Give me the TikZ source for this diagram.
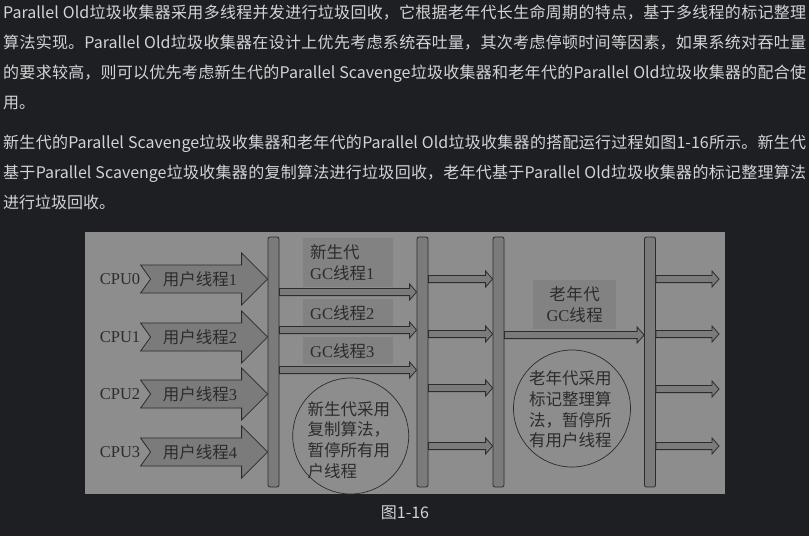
\documentclass[tikz,border=0pt]{standalone}
\usepackage{fontspec}
\setmainfont{Liberation Serif}
\newfontfamily\cjk{Noto Sans CJK SC}
\usetikzlibrary{calc}
\XeTeXlinebreaklocale "zh"
\XeTeXlinebreakskip=0pt plus 1pt
\tolerance=9999
\definecolor{pagebg}{HTML}{1E1F22}
\definecolor{pagetext}{HTML}{D3D4D6}
\definecolor{panelgray}{HTML}{8D8D8D}
\definecolor{bargray}{HTML}{7B7B7B}
\definecolor{boxgray}{HTML}{828282}
\definecolor{inkgray}{HTML}{2C2C2C}
\newcommand{\zh}[1]{{\cjk #1}}
% block arrow of a user thread, #1 is its tip
\newcommand{\userthread}[1]{%
    \draw[user arrow]
        ($(#1)+(-127,-14)$) -- ($(#1)+(-26,-14)$) -- ($(#1)+(-26,-26)$)
        -- (#1) -- ($(#1)+(-26,26)$) -- ($(#1)+(-26,14)$)
        -- ($(#1)+(-127,14)$) -- ($(#1)+(-117,0)$) -- cycle;}
% thin hollow arrow from #1 to #2 (same height)
\newcommand{\gcarrow}[2]{%
    \draw[gc arrow]
        ($(#1)+(0,-3.6)$) -- ($(#2)+(-7,-3.6)$) -- ($(#2)+(-7,-8)$)
        -- (#2) -- ($(#2)+(-7,8)$) -- ($(#2)+(-7,3.6)$)
        -- ($(#1)+(0,3.6)$) -- cycle;}

\begin{document}
\begin{tikzpicture}[
        x=1pt,
        y=-1pt,
        body text/.style={text=pagetext,text width=803pt,align=justify,
            inner sep=0pt,font=\cjk\fontsize{16}{30}\selectfont},
        diagram text/.style={text=inkgray,inner sep=0pt,
            font=\fontsize{16.5}{20.8}\selectfont},
        time bar/.style={draw=inkgray,fill=bargray,line width=0.8pt,
            rounded corners=2pt,minimum width=11pt,minimum height=250pt,
            inner sep=0pt},
        user arrow/.style={draw=inkgray,fill=bargray,line width=0.8pt},
        gc arrow/.style={draw=inkgray,fill=bargray,line width=0.8pt},
        gc label/.style={fill=boxgray,inner ysep=0pt,text=inkgray,
            font=\fontsize{16.5}{20.3}\selectfont,anchor=north west},
        phase note/.style={circle,draw=inkgray,line width=0.7pt,inner sep=0pt}
    ]
        \fill[pagebg] (0,0) rectangle (809,536);
        \useasboundingbox (0,0) rectangle (809,536);

        % The two paragraphs above the figure.
        \node[body text,anchor=base west] (para1) at (3,18.5)
            {Parallel Old垃圾收集器采用多线程并发进行垃圾回收，它根据老年代长生命周期的特点，基于多线程的标记整理\linebreak 算法实现。Parallel Old垃圾收集器在设计上优先考虑系统吞吐量，其次考虑停顿时间等因素，如果系统对吞吐量\linebreak 的要求较高，则可以优先考虑新生代的Parallel Scavenge垃圾收集器和老年代的Parallel Old垃圾收集器的配合使\linebreak 用。};
        \node[body text,anchor=base west] (para2) at (3,148)
            {新生代的Parallel Scavenge垃圾收集器和老年代的Parallel Old垃圾收集器的搭配运行过程如图1-16所示。新生代\linebreak 基于Parallel Scavenge垃圾收集器的复制算法进行垃圾回收，老年代基于Parallel Old垃圾收集器的标记整理算法\linebreak 进行垃圾回收。};

        % The gray figure and its time lines.
        \fill[panelgray] (85,232) rectangle (725,494);
        \node[time bar] (b1) at (273.5,362) {};
        \node[time bar] (b2) at (422.5,362) {};
        \node[time bar] (b3) at (498.5,362) {};
        \node[time bar] (b4) at (650,362) {};

        % User threads running on the four CPUs.
        \coordinate (u0) at (b1.west |- 0,279);
        \coordinate (u1) at (b1.west |- 0,337);
        \coordinate (u2) at (b1.west |- 0,394);
        \coordinate (u3) at (b1.west |- 0,452);
        \userthread{u0}
        \userthread{u1}
        \userthread{u2}
        \userthread{u3}
        \node[diagram text] (cpu0) at (120,279) {CPU0};
        \node[diagram text] (cpu1) at (120,337) {CPU1};
        \node[diagram text] (cpu2) at (120,394) {CPU2};
        \node[diagram text] (cpu3) at (120,452) {CPU3};
        \node[diagram text] (ut0) at (200,279) {\zh{用户线程}1};
        \node[diagram text] (ut1) at (200,337) {\zh{用户线程}2};
        \node[diagram text] (ut2) at (200,394) {\zh{用户线程}3};
        \node[diagram text] (ut3) at (200,452) {\zh{用户线程}4};

        % Young generation GC threads.
        \node[gc label,minimum width=90pt,minimum height=49pt,
            text width=76pt,inner xsep=7pt,align=left] (yl1) at (303,238)
            {\zh{新生代}\\GC\zh{线程}1};
        \node[gc label,minimum width=90pt,minimum height=28pt,
            text width=76pt,inner xsep=7pt,align=left] (yl2) at (303,299)
            {GC\zh{线程}2};
        \node[gc label,minimum width=90pt,minimum height=27pt,
            text width=76pt,inner xsep=7pt,align=left] (yl3) at (303,337)
            {GC\zh{线程}3};
        \gcarrow{b1.east |- 0,292}{b2.west |- 0,292}
        \gcarrow{b1.east |- 0,330}{b2.west |- 0,330}
        \gcarrow{b1.east |- 0,370}{b2.west |- 0,370}
        \node[phase note,minimum size=116pt] (yn) at (350.7,436) {};
        \node[diagram text,align=left,anchor=west] (ynt) at (307.5,440)
            {\zh{新生代采用}\\\zh{复制算法，}\\\zh{暂停所有用}\\\zh{户线程}};

        % User threads resume between the two collections.
        \gcarrow{b2.east |- 0,279}{b3.west |- 0,279}
        \gcarrow{b2.east |- 0,334}{b3.west |- 0,334}
        \gcarrow{b2.east |- 0,388}{b3.west |- 0,388}
        \gcarrow{b2.east |- 0,446}{b3.west |- 0,446}

        % Old generation GC thread.
        \node[gc label,minimum width=83pt,minimum height=49pt,
            text width=83pt,inner xsep=0pt,align=center] (ol) at (533,280)
            {\zh{老年代}\\GC\zh{线程}};
        \gcarrow{b3.east |- 0,335}{b4.west |- 0,335}
        \node[phase note,minimum size=117pt] (on) at (572,408.5) {};
        \node[diagram text,align=left,anchor=west] (ont) at (529,409.5)
            {\zh{老年代采用}\\\zh{标记整理算}\\\zh{法，暂停所}\\\zh{有用户线程}};

        % User threads after the collection.
        \coordinate (o0) at (719,279);
        \coordinate (o1) at (719,334);
        \coordinate (o2) at (719,389);
        \coordinate (o3) at (719,446);
        \gcarrow{b4.east |- o0}{o0}
        \gcarrow{b4.east |- o1}{o1}
        \gcarrow{b4.east |- o2}{o2}
        \gcarrow{b4.east |- o3}{o3}

        \node[text=pagetext,font=\cjk\fontsize{16}{20}\selectfont] (cap)
            at (405,512.5) {图1-16};
    \end{tikzpicture}
\end{document}
